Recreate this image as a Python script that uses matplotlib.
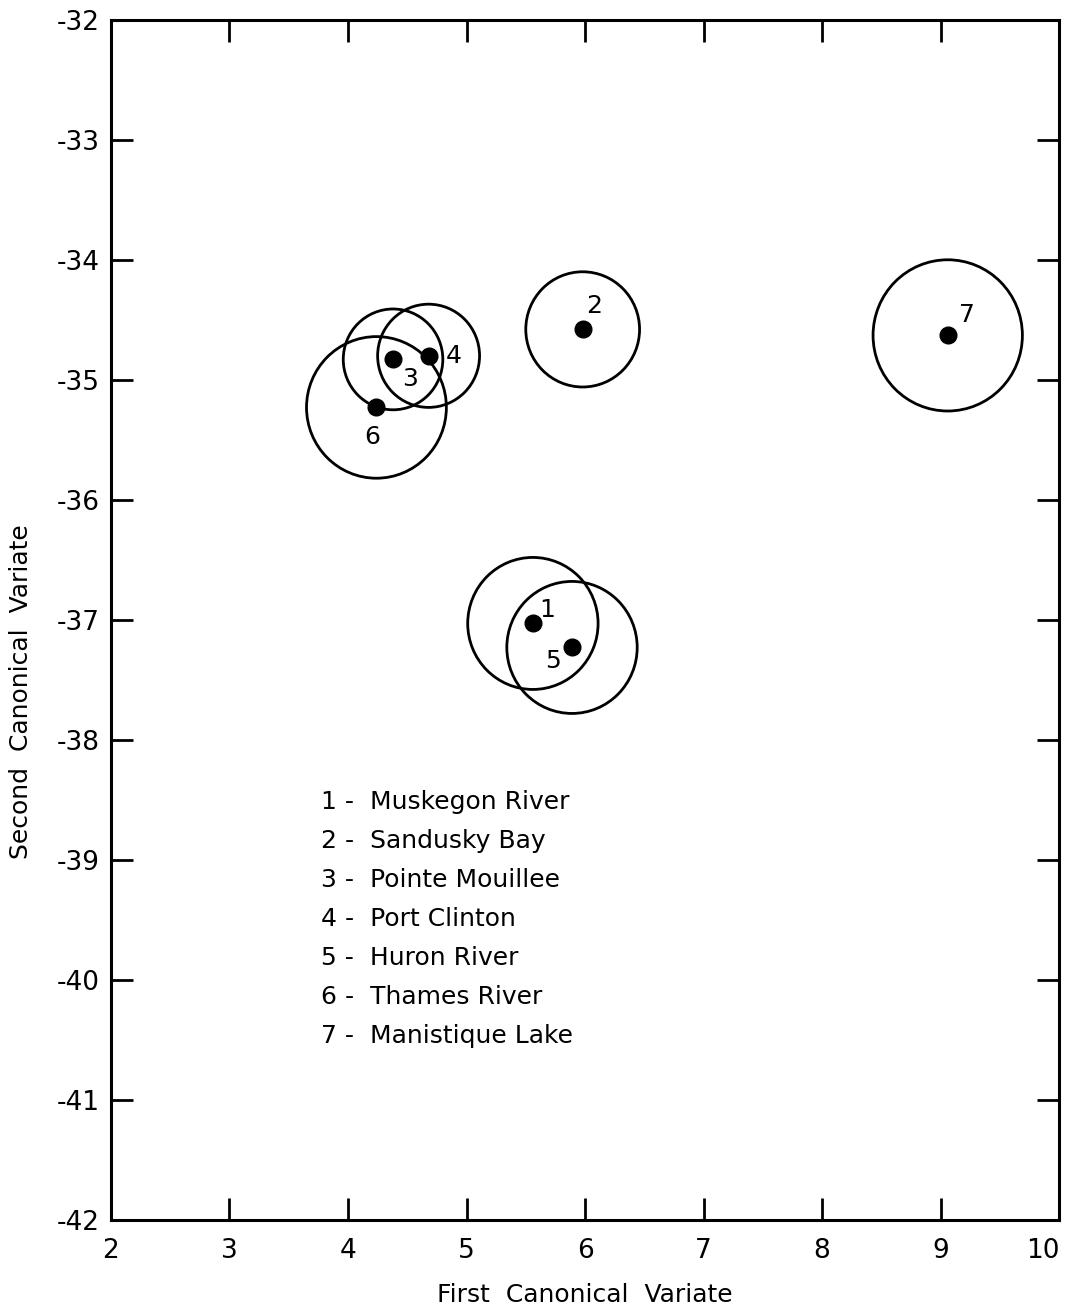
import numpy as np
import matplotlib.pyplot as plt
from matplotlib.patches import Circle

# ======================
# DATOS
# ======================
grupos = [1, 2, 3, 4, 5, 6, 7]
nombres = ["Muskegon River", "Sandusky Bay", "Pointe Mouillee", "Port Clinton",
           "Huron River", "Thames River", "Manistique Lake"]
cv1 = [5.56, 5.98, 4.38, 4.68, 5.89, 4.24, 9.06]
cv2 = [-37.03, -34.58, -34.83, -34.80, -37.23, -35.23, -34.63]
radios = [0.55, 0.48, 0.42, 0.43, 0.55, 0.59, 0.63]

# desplazamiento de la etiqueta numerica (puntos)
offsets = [(10, 10), (8, 17), (12, -14), (18, 0), (-14, -10), (-3, -21), (14, 15)]

plt.rcParams['font.family'] = ['DejaVu Sans']
plt.rcParams['axes.unicode_minus'] = False

fig = plt.figure(figsize=(10.72, 13.16), dpi=100)
ax = fig.add_axes([0.1035, 0.073, 0.8845, 0.912])

for x, y, r in zip(cv1, cv2, radios):
    ax.add_patch(Circle((x, y), r, fill=False, lw=2.0, ec='black'))
ax.plot(cv1, cv2, 'o', color='black', markersize=12, ls='none')

for g, x, y, (dx, dy) in zip(grupos, cv1, cv2, offsets):
    ax.annotate(str(g), (x, y), xytext=(dx, dy), textcoords='offset points',
                ha='center', va='center', fontsize=18)

# lista de lugares
for i, (g, n) in enumerate(zip(grupos, nombres)):
    ax.text(0.222, 0.348 - i * 0.0325, f"{g} -  {n}", transform=ax.transAxes,
            fontsize=18, va='center', ha='left')

ax.set_xlim(2, 10)
ax.set_ylim(-42, -32)
ax.set_xticks(range(2, 11))
ax.set_yticks(range(-42, -31))
ax.tick_params(direction='in', length=16, width=2, labelsize=19,
               top=True, right=True, pad=8)
ax.tick_params(axis='x', pad=13)
# el "10" queda pegado al borde derecho
ax.get_xticklabels()[-1].set_horizontalalignment('right')
for s in ax.spines.values():
    s.set_linewidth(2.2)

ax.set_xlabel("First  Canonical  Variate", fontsize=18, labelpad=14)
ax.set_ylabel("Second  Canonical  Variate", fontsize=18)
ax.yaxis.set_label_coords(-0.082, 0.44)

fig.savefig("out.png", dpi=100)
